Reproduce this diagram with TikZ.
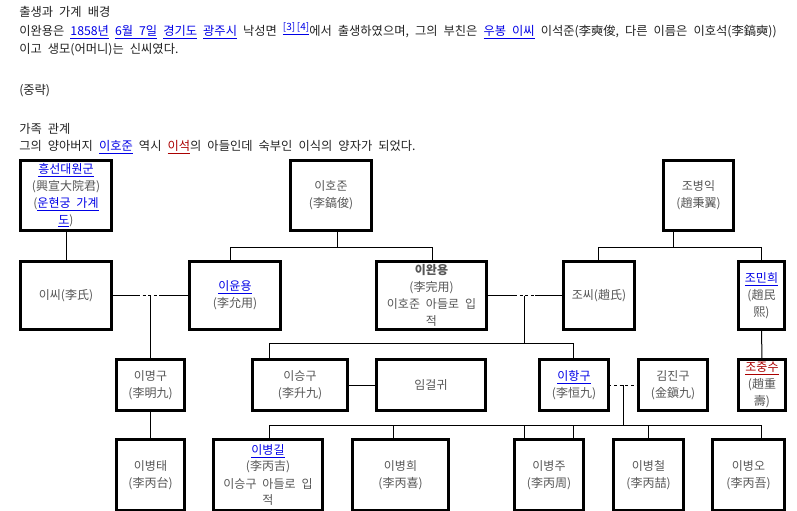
\documentclass[tikz,border=0pt]{standalone}
\usepackage{fontspec}
\setmainfont{Noto Sans CJK KR}[WordSpace=2.2]
\definecolor{lnk}{RGB}{0,0,230}
\definecolor{newlnk}{RGB}{170,0,0}
\definecolor{boxtxt}{RGB}{85,85,85}
\definecolor{bodytxt}{RGB}{34,34,34}
\newcommand\lk[1]{\textcolor{lnk}{\underline{#1}}}
\newcommand\nlk[1]{\textcolor{newlnk}{\underline{#1}}}
\newcommand\refsup[1]{\raisebox{3.6pt}{\fontsize{7.5}{7.5}\selectfont\textcolor{lnk}{#1}}}
\newcommand\bx[6]{%
  \pgfmathsetmacro\bw{(#4-#2-3)*0.75}%
  \pgfmathsetmacro\bh{(#5-#3-3)*0.75}%
  \node[box, minimum width=\bw pt, minimum height=\bh pt] (#1) at ({(#2+#4)/2},{(#3+#5)/2}) {#6};}
\begin{document}
\begin{tikzpicture}[x=0.75pt,y=-0.75pt,
  box/.style={draw, line width=2.25pt, inner sep=0pt, outer sep=0pt, align=center,
    text=boxtxt, font=\fontsize{9}{12.75}\selectfont},
  conn/.style={line width=0.75pt},
  marr/.style={line width=0.75pt, dash pattern=on 2.2pt off 2pt},
  body/.style={anchor=west, inner sep=0pt, text=bodytxt, font=\fontsize{9.2}{12}\selectfont}]
\useasboundingbox (0,0) rectangle (797,511);

% ---- body text ----
\node[body] (t1) at (19,12) {출생과 가계 배경};
\node[body] (t2) at (19,31) {이완용은 \lk{1858년} \lk{6월 7일} \lk{경기도} \lk{광주시} 낙성면 \refsup{\underline{[3]\,[4]}}에서 출생하였으며, 그의 부친은 \lk{우봉 이씨} 이석준(李奭俊, 다른 이름은 이호석(李鎬奭))};
\node[body] (t3) at (19,50) {이고 생모(어머니)는 신씨였다.};
\node[body] (t4) at (19,91) {(중략)};
\node[body] (t5) at (19,129) {가족 관계};
\node[body] (t6) at (19,147) {그의 양아버지 \lk{이호준} 역시 \nlk{이석}의 아들인데 숙부인 이식의 양자가 되었다.};

% ---- row 1 ----
\bx{hs}{19}{159}{113}{232}{\lk{흥선대원군}\\(興宣大院君)\\(\lk{운현궁 가계}\\\lk{도})}
\bx{hj}{289}{159}{373}{232}{이호준\\(李鎬俊)}
\bx{jb}{662}{159}{735}{232}{조병익\\(趙秉翼)}

% ---- row 2 ----
\bx{ys}{19}{260}{113}{331}{이씨(李氏)}
\bx{yy}{188}{260}{282}{331}{\lk{이윤용}\\(李允用)}
\bx{wy}{375}{260}{488}{331}{\textbf{이완용}\\(李完用)\\이호준 아들로 입\\적}
\bx{js}{562}{260}{636}{331}{조씨(趙氏)}
\bx{jm}{737}{260}{786}{331}{\lk{조민희}\\(趙民\\熙)}

% ---- row 3 ----
\bx{mg}{115}{358}{186}{412}{이명구\\(李明九)}
\bx{sg}{251}{358}{349}{412}{이승구\\(李升九)}
\bx{ig}{375}{358}{487}{412}{임걸귀}
\bx{hg}{538}{358}{610}{412}{\lk{이항구}\\(李恒九)}
\bx{kj}{637}{358}{709}{412}{김진구\\(金鎭九)}
\bx{jj}{737}{358}{787}{412}{\nlk{조중수}\\(趙重\\壽)}

% ---- row 4 ----
\bx{bt}{115}{438}{186}{512}{이병태\\(李丙台)}
\bx{bg}{212}{438}{324}{512}{\lk{이병길}\\(李丙吉)\\이승구 아들로 입\\적}
\bx{bh}{351}{438}{450}{512}{이병희\\(李丙喜)}
\bx{bj}{513}{438}{585}{512}{이병주\\(李丙周)}
\bx{bc}{612}{438}{685}{512}{이병철\\(李丙喆)}
\bx{bo}{711}{438}{786}{512}{이병오\\(李丙吾)}

% ---- coordinates ----
\coordinate (b1) at (337,247);
\coordinate (b1l) at (230,247);
\coordinate (b1r) at (432,247);
\coordinate (b4) at (673,247);
\coordinate (b4l) at (598,247);
\coordinate (b4r) at (761,247);
\coordinate (m1a) at (137,295.5);
\coordinate (m1b) at (161,295.5);
\coordinate (m1c) at (150,295.5);
\coordinate (m2a) at (514,295.5);
\coordinate (m2b) at (535,295.5);
\coordinate (m2c) at (524,295.5);
\coordinate (b2) at (524,343);
\coordinate (b2l) at (269,343);
\coordinate (b2r) at (573,343);
\coordinate (m3c) at (623,385);
\coordinate (b3) at (623,425);
\coordinate (b3l) at (269,425);
\coordinate (v2) at (393,425);
\coordinate (v3) at (524,425);
\coordinate (v4) at (573,425);
\coordinate (v5) at (648,425);
\coordinate (b3r) at (761,425);

% ---- connectors ----
\draw[conn] (hs.south) -- (ys.north);
\draw[conn] (b1 |- hj.south) -- (b1);
\draw[conn] (b1l |- yy.north) -- (b1l) -- (b1r) -- (b1r |- wy.north);
\draw[conn] (b4 |- jb.south) -- (b4);
\draw[conn] (b4l |- js.north) -- (b4l) -- (b4r) -- (b4r |- jm.north);

\draw[conn] (ys.east) -- (m1a);
\draw[marr] (m1a) -- (m1b);
\draw[conn] (m1b) -- (yy.west);
\draw[conn] (m1c) -- (m1c |- mg.north);

\draw[conn] (wy.east) -- (m2a);
\draw[marr] (m2a) -- (m2b);
\draw[conn] (m2b) -- (js.west);
\draw[conn] (m2c) -- (b2);
\draw[conn] (b2l |- sg.north) -- (b2l) -- (b2r) -- (b2r |- hg.north);

\draw[conn] (jm.south) -- (jj.north);
\draw[conn] (sg.east) -- (ig.west);
\draw[marr] (hg.east) -- (kj.west);
\draw[conn] (m3c) -- (b3);
\draw[conn] (mg.south) -- (bt.north);

\draw[conn] (b3l) -- (b3r);
\draw[conn] (b3l) -- (b3l |- bg.north);
\draw[conn] (v2) -- (v2 |- bh.north);
\draw[conn] (v3) -- (v3 |- bj.north);
\draw[conn] (v4) -- (v4 |- bj.north);
\draw[conn] (v5) -- (v5 |- bc.north);
\draw[conn] (b3r) -- (b3r |- bo.north);
\end{tikzpicture}
\end{document}
